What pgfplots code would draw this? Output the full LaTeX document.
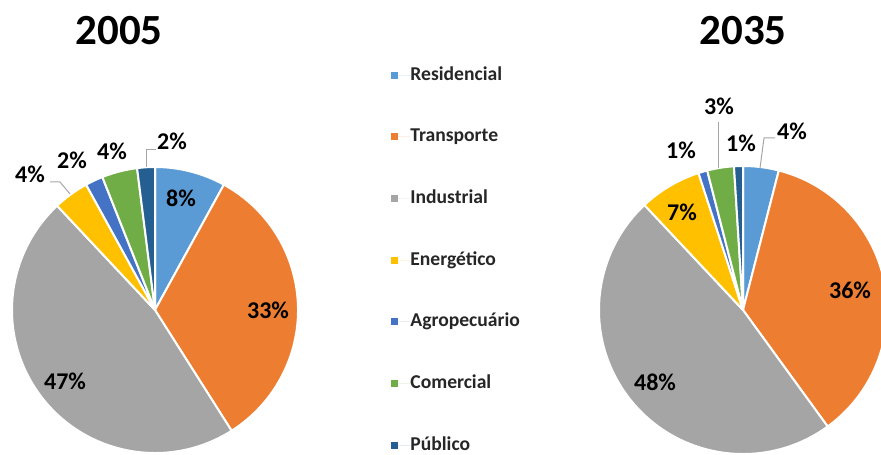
\documentclass[border=0pt]{standalone}
\usepackage{pgfplots}
\pgfplotsset{compat=1.18}
\usepackage{pgfplotstable}
\usepackage{fontspec}
\setmainfont{Carlito}
\definecolor{cS0}{HTML}{5B9BD5}
\definecolor{cS1}{HTML}{ED7D31}
\definecolor{cS2}{HTML}{A5A5A5}
\definecolor{cS3}{HTML}{FFC000}
\definecolor{cS4}{HTML}{4472C4}
\definecolor{cS5}{HTML}{70AD47}
\definecolor{cS6}{HTML}{255E91}
\definecolor{leader}{HTML}{A6A6A6}

% shares (%) by sector
\pgfplotstableread{
idx sector v2005 v2035
0 Residencial 8 4
1 Transporte 33 36
2 Industrial 47 48
3 Energetico 4 7
4 Agropecuario 2 1
5 Comercial 4 3
6 Publico 2 1
}\shares

% #1 column, #2 cx, #3 cy (axis units = px), #4 radius (canvas)
\newcommand{\drawpie}[4]{%
  \def\cum{0}%
  \pgfplotsforeachungrouped \i in {0,...,6}{%
    \pgfplotstablegetelem{\i}{#1}\of\shares
    \pgfmathsetmacro{\aS}{90-3.6*\cum}%
    \pgfmathsetmacro{\cum}{\cum+\pgfplotsretval}%
    \pgfmathsetmacro{\aE}{90-3.6*\cum}%
    \edef\temp{\noexpand\filldraw[fill=cS\i, draw=white, line width=1pt, line join=round]
      (axis cs:#2,#3) -- ++(\aS:#4) arc[start angle=\aS, end angle=\aE, radius=#4] -- cycle;}%
    \temp
  }%
}

\begin{document}
\begin{tikzpicture}
\useasboundingbox (0,0) rectangle (440.5pt,227pt);
\clip (0,0) rectangle (440.5pt,227pt);
\begin{axis}[
  x=0.5pt, y=0.5pt, xmin=0, xmax=881, ymin=0, ymax=454,
  hide axis, anchor=south west, at={(0,0)}, clip=false,
  legend style={at={(axis cs:391,387)}, anchor=north west, draw=none, fill=none,
    inner sep=0pt, font=\fontsize{9.8}{11}\selectfont\bfseries, text=black!85,
    row sep=22.8pt, nodes={inner sep=0pt, text height=6.5pt, text depth=1.5pt}},
  legend cell align=left,
  legend image code/.code={\fill[#1] (0pt,-1.75pt) rectangle (3.5pt,1.75pt); \path (0pt,0pt) -- (9.5pt,0pt);},
]
\addlegendimage{fill=cS0, draw=none}
\addlegendentry{Residencial}
\addlegendimage{fill=cS1, draw=none}
\addlegendentry{Transporte}
\addlegendimage{fill=cS2, draw=none}
\addlegendentry{Industrial}
\addlegendimage{fill=cS3, draw=none}
\addlegendentry{Energético}
\addlegendimage{fill=cS4, draw=none}
\addlegendentry{Agropecuário}
\addlegendimage{fill=cS5, draw=none}
\addlegendentry{Comercial}
\addlegendimage{fill=cS6, draw=none}
\addlegendentry{Público}

\drawpie{v2005}{155}{144}{71.5pt}
\drawpie{v2035}{743}{144}{72pt}

% titles
\node[font=\fontsize{21.5}{24}\selectfont\bfseries, inner sep=0pt] at (axis cs:119,423) {2005};
\node[font=\fontsize{21.5}{24}\selectfont\bfseries, inner sep=0pt] at (axis cs:743,423) {2035};

% leader lines
\draw[leader, line width=0.5pt] (axis cs:50,272) -- (axis cs:60,272) -- (axis cs:70,260);
\draw[leader, line width=0.5pt] (axis cs:156,304) -- (axis cs:146,304) -- (axis cs:146,287);
\draw[leader, line width=0.5pt] (axis cs:775,316) -- (axis cs:764,316) -- (axis cs:760,286);
\draw[leader, line width=0.5pt] (axis cs:718,332) -- (axis cs:718,286);

% data labels
\begin{scope}[every node/.style={font=\fontsize{12}{14}\selectfont\bfseries, inner sep=0pt}]
\node at (axis cs:181,256) {8\%};
\node at (axis cs:268,144) {33\%};
\node at (axis cs:65,73) {47\%};
\node at (axis cs:30,280) {4\%};
\node at (axis cs:72,294) {2\%};
\node at (axis cs:112,303) {4\%};
\node at (axis cs:172,313) {2\%};
\node at (axis cs:792,323) {4\%};
\node at (axis cs:741,311) {1\%};
\node at (axis cs:719,348) {3\%};
\node at (axis cs:681,304) {1\%};
\node at (axis cs:682,242) {7\%};
\node at (axis cs:850,164) {36\%};
\node at (axis cs:655,72) {48\%};
\end{scope}
\end{axis}
\end{tikzpicture}
\end{document}
